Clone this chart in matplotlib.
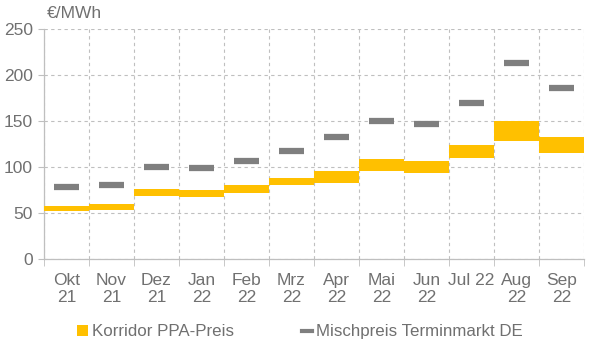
import numpy as np
import matplotlib.pyplot as plt
from matplotlib.lines import Line2D
from matplotlib.patches import Patch

plt.rcParams['font.family'] = ['Liberation Sans', 'DejaVu Sans']

months = ["Okt\n21", "Nov\n21", "Dez\n21", "Jan\n22", "Feb\n22", "Mrz\n22",
          "Apr\n22", "Mai\n22", "Jun\n22", "Jul 22", "Aug\n22", "Sep\n22"]
ppa_low = [52, 53, 68, 67, 72, 80, 83, 96, 94, 110, 128, 115]
ppa_high = [58, 60, 76, 75, 80, 88, 96, 109, 106, 124, 150, 133]
terminmarkt = [78, 80, 100, 99, 106, 117, 133, 150, 147, 170, 213, 186]

YELLOW = "#FFC000"
MARK = "#7F7F7F"
TEXT = "#707070"
GRID = "#BFBFBF"
FS = 12.5

x = np.arange(len(months))

fig = plt.figure(figsize=(6, 3.56), dpi=100)
ax = fig.add_axes([0.0733, 0.2725, 0.9, 0.646])

heights = np.array(ppa_high) - np.array(ppa_low)
ax.bar(x, heights, bottom=ppa_low, width=1.0, color=YELLOW, zorder=3)
ax.hlines(terminmarkt, x - 0.28, x + 0.28, colors=MARK, linewidth=4.5, zorder=4)

ax.set_xlim(-0.5, len(months) - 0.5)
ax.set_ylim(0, 250)
ax.set_yticks(np.arange(0, 251, 50))
ax.set_xticks(x)
ax.set_xticklabels(months, linespacing=1.2, va="top")
ax.set_xticks(np.arange(-0.5, len(months), 1), minor=True)

ax.tick_params(axis="x", which="major", length=0, pad=10, labelsize=FS, colors=TEXT)
ax.tick_params(axis="x", which="minor", length=5, color=GRID, direction="out")
ax.tick_params(axis="y", length=4, color=GRID, labelsize=FS, colors=TEXT, pad=4)

ax.grid(axis="y", color=GRID, linestyle=(0, (3, 3)), linewidth=0.8, zorder=0)
ax.grid(axis="x", which="minor", color=GRID, linestyle=(0, (3, 3)), linewidth=0.8, zorder=0)
ax.set_axisbelow(True)

for s in ["top", "right"]:
    ax.spines[s].set_visible(False)
for s in ["left", "bottom"]:
    ax.spines[s].set_color(GRID)
    ax.spines[s].set_linewidth(0.9)

ax.text(0.005, 1.035, "€/MWh", transform=ax.transAxes, ha="left", va="bottom",
        fontsize=FS, color=TEXT)

handles = [Patch(facecolor=YELLOW, edgecolor="none"),
           Line2D([0], [0], color=MARK, linewidth=3)]
fig.legend(handles, ["Korridor PPA-Preis", "Mischpreis Terminmarkt DE"],
           loc="center", bbox_to_anchor=(0.5, 0.068), ncol=2, frameon=False,
           fontsize=12.2, labelcolor=TEXT, handlelength=0.6, handleheight=0.6,
           handletextpad=0.25, columnspacing=4.0)

fig.savefig("out.png", dpi=100)
